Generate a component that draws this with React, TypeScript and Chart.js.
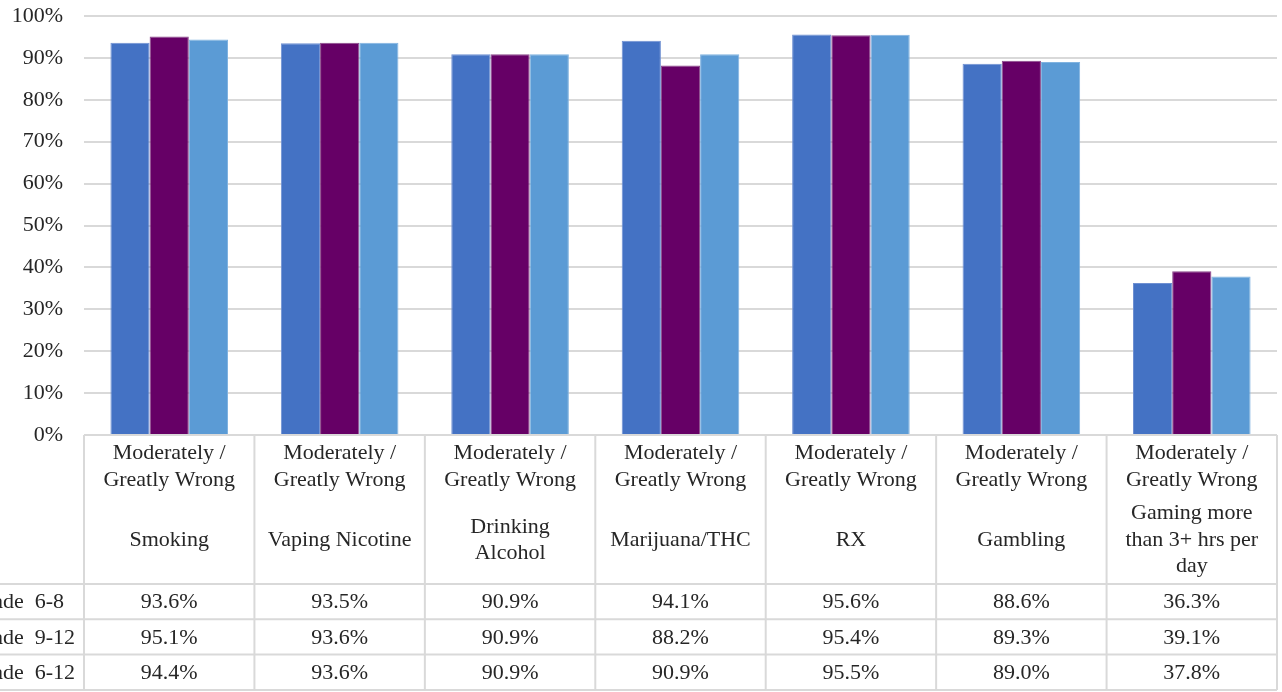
import React, { useEffect, useRef } from "react";
import { Chart, registerables } from "chart.js";

Chart.register(...registerables);

const categoryLines: string[][] = [
  ["Smoking"],
  ["Vaping Nicotine"],
  ["Drinking", "Alcohol"],
  ["Marijuana/THC"],
  ["RX"],
  ["Gambling"],
  ["Gaming more", "than 3+ hrs per", "day"],
];
const headerLines: string[] = ["Moderately /", "Greatly Wrong"];

const seriesNames: string[] = ["Grade  6-8", "Grade  9-12", "Grade  6-12"];
const grade6to8: number[] = [93.6, 93.5, 90.9, 94.1, 95.6, 88.6, 36.3];
const grade9to12: number[] = [95.1, 93.6, 90.9, 88.2, 95.4, 89.3, 39.1];
const grade6to12: number[] = [94.4, 93.6, 90.9, 90.9, 95.5, 89.0, 37.8];
const seriesColors: string[] = ["#4472C4", "#660066", "#5B9BD5"];
const seriesBorders: string[] = ["#6f90d2", "#8a4a8a", "#80b3e0"];

const FONT = '"Liberation Serif", "Times New Roman", serif';
const TEXT = "#262626";
const GRID = "#D9D9D9";

const tablePlugin = {
  id: "dataTable",
  afterDraw(chart: any) {
    const { ctx, chartArea } = chart;
    const { left, right, bottom } = chartArea;
    const xs = chart.scales.x;
    const n = categoryLines.length;
    const colW = (right - left) / n;
    const headerBottom = bottom + 149;
    const rowH = 35.3;
    const tableBottom = headerBottom + rowH * 3;
    const allSeries = [grade6to8, grade9to12, grade6to12];

    ctx.save();
    ctx.strokeStyle = GRID;
    ctx.lineWidth = 2;
    const line = (x1: number, y1: number, x2: number, y2: number) => {
      ctx.beginPath();
      ctx.moveTo(x1, y1);
      ctx.lineTo(x2, y2);
      ctx.stroke();
    };
    line(left, bottom, right, bottom);
    for (let r = 0; r <= 3; r++) {
      const y = headerBottom + r * rowH;
      line(0, y, right, y);
    }
    for (let i = 0; i <= n; i++) {
      const xx = left + i * colW;
      line(xx, bottom, xx, tableBottom);
    }

    ctx.fillStyle = TEXT;
    ctx.font = `22px ${FONT}`;
    ctx.textBaseline = "middle";
    ctx.textAlign = "center";
    for (let i = 0; i < n; i++) {
      const cx = xs.getPixelForValue(i);
      ctx.fillText(headerLines[0], cx, bottom + 18);
      ctx.fillText(headerLines[1], cx, bottom + 45);
      const lines = categoryLines[i];
      const lh = 26.5;
      const startY = bottom + 105 - ((lines.length - 1) * lh) / 2;
      lines.forEach((t, k) => ctx.fillText(t, cx, startY + k * lh));
      allSeries.forEach((s, r) => {
        ctx.fillText(s[i].toFixed(1) + "%", cx, headerBottom + rowH * r + rowH / 2 + 1);
      });
    }
    ctx.textAlign = "left";
    const pre = ctx.measureText("Gra").width;
    seriesNames.forEach((name, r) => {
      ctx.fillText(name, 3 - pre, headerBottom + rowH * r + rowH / 2 + 1);
    });
    ctx.restore();
  },
};

export default function App() {
  const ref = useRef<HTMLCanvasElement | null>(null);
  useEffect(() => {
    document.body.style.margin = "0";
    if (!ref.current) return;
    const data = [grade6to8, grade9to12, grade6to12];
    const chart = new Chart(ref.current, {
      type: "bar",
      data: {
        labels: categoryLines.map((l) => l.join(" ")),
        datasets: seriesNames.map((name, i) => ({
          label: name,
          data: data[i],
          backgroundColor: seriesColors[i],
          borderColor: seriesBorders[i],
          borderWidth: 1,
          categoryPercentage: 0.69,
          barPercentage: 1,
        })),
      },
      options: {
        responsive: false,
        animation: false,
        layout: { padding: { top: 16, bottom: 257, right: 5, left: 0 } },
        plugins: { legend: { display: false }, tooltip: { enabled: false } },
        scales: {
          x: { display: false },
          y: {
            min: 0,
            max: 100,
            afterFit: (s: any) => {
              s.width = 84;
            },
            border: { display: false },
            grid: {
              color: GRID,
              lineWidth: 2,
              drawTicks: true,
              tickLength: 21,
              tickColor: "rgba(0,0,0,0)",
            },
            ticks: {
              stepSize: 10,
              padding: 0,
              color: TEXT,
              font: { family: FONT, size: 22 },
              callback: (v: any) => v + "%",
            },
          },
        },
      },
      plugins: [tablePlugin],
    });
    return () => chart.destroy();
  }, []);
  return (
    <div style={{ position: "fixed", left: 0, top: 0, width: 1282, height: 692 }}>
      <canvas ref={ref} width={1282} height={692} />
    </div>
  );
}
